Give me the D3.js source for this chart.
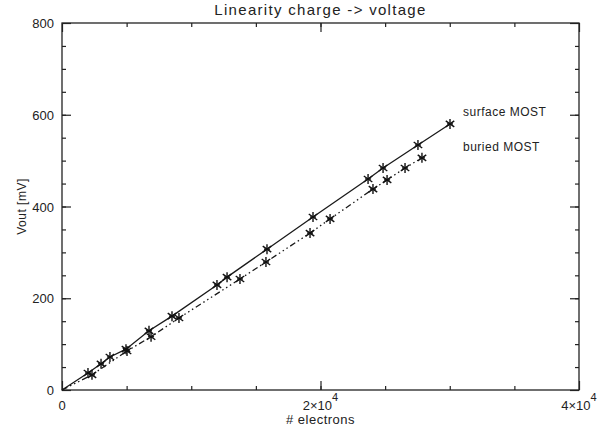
<!DOCTYPE html>
<html>
  <head>
    <meta charset="UTF-8">
    <title>Linearity charge -> voltage</title>
    <script src="https://cdn.jsdelivr.net/npm/d3@7"></script>
    <style>
      body { margin: 0; background: #fff; }
      text { font-family: "Liberation Sans", Arial, sans-serif; fill: #222; }
    </style>
  </head>
  <body>
    <script>
      // data: electrons vs Vout [mV]
      var surfaceX = [2010, 3020, 3710, 4950, 6730, 8510, 11990, 12770, 15860, 19420, 23680, 24840, 27540, 30020];
      var surfaceY = [37, 57, 72, 89, 129, 161, 229, 246, 307, 377, 460, 484, 534, 580];
      var buriedX = [2320, 5030, 6890, 9050, 13770, 15780, 19190, 20740, 24060, 25150, 26540, 27850];
      var buriedY = [33, 85, 116, 157, 242, 279, 342, 373, 438, 458, 484, 506];
      var xMajor = [0, 20000, 40000];
      var xMinor = d3.range(5000, 40000, 5000);
      var yMajor = [0, 200, 400, 600, 800];
      var yMinor = d3.range(50, 800, 50);
      var seriesNames = ["surface MOST", "buried MOST"];

      var width = 603, height = 427;
      var mLeft = 62, mRight = 579, mTop = 23, mBottom = 390;

      var svg = d3.select("body").append("svg")
        .attr("width", width)
        .attr("height", height);

      var x = d3.scaleLinear().domain([0, 40000]).range([mLeft, mRight]);
      var y = d3.scaleLinear().domain([0, 800]).range([mBottom, mTop]);

      // frame
      svg.append("rect")
        .attr("x", mLeft).attr("y", mTop)
        .attr("width", mRight - mLeft).attr("height", mBottom - mTop)
        .style("fill", "none").style("stroke", "#222").style("stroke-width", 1.3);

      function ticks(axis, vals, size, transform) {
        var g = svg.append("g")
          .attr("transform", transform)
          .call(axis.tickValues(vals).tickSize(size).tickFormat(""));
        g.select(".domain").remove();
        g.selectAll("line").style("stroke", "#222").style("stroke-width", 1.2);
        return g;
      }

      // inward ticks on all four sides
      ticks(d3.axisBottom(x), xMajor, -9, "translate(0," + mBottom + ")");
      ticks(d3.axisBottom(x), xMinor, -4, "translate(0," + mBottom + ")");
      ticks(d3.axisTop(x), xMajor, -9, "translate(0," + mTop + ")");
      ticks(d3.axisTop(x), xMinor, -4, "translate(0," + mTop + ")");
      ticks(d3.axisLeft(y), yMajor, -9, "translate(" + mLeft + ",0)");
      ticks(d3.axisLeft(y), yMinor, -4, "translate(" + mLeft + ",0)");
      ticks(d3.axisRight(y), yMajor, -9, "translate(" + mRight + ",0)");
      ticks(d3.axisRight(y), yMinor, -4, "translate(" + mRight + ",0)");

      // y tick labels
      svg.selectAll(".ylab")
        .data(yMajor)
        .enter().append("text")
        .attr("class", "ylab")
        .attr("x", mLeft - 8)
        .attr("y", function (d) { return y(d) + 5; })
        .attr("text-anchor", "end")
        .style("font-size", "13px")
        .text(function (d) { return d; });

      // x tick labels, with powers of ten
      var xl = svg.selectAll(".xlab")
        .data(xMajor)
        .enter().append("text")
        .attr("class", "xlab")
        .attr("x", function (d) { return x(d); })
        .attr("y", 410)
        .attr("text-anchor", "middle")
        .style("font-size", "13px");
      xl.each(function (d) {
        var t = d3.select(this);
        if (d === 0) { t.text("0"); return; }
        t.append("tspan").text((d / 10000) + "\u00d710");
        t.append("tspan").attr("dy", -9).style("font-size", "11px").text("4");
      });

      // titles
      svg.append("text")
        .attr("x", (mLeft + mRight) / 2)
        .attr("y", 15)
        .attr("text-anchor", "middle")
        .style("font-size", "15px")
        .style("letter-spacing", "1.3px")
        .text("Linearity charge -> voltage");

      svg.append("text")
        .attr("x", (mLeft + mRight) / 2)
        .attr("y", 424)
        .attr("text-anchor", "middle")
        .style("font-size", "13px")
        .style("letter-spacing", "0.5px")
        .text("# electrons");

      svg.append("text")
        .attr("transform", "translate(26," + ((mTop + mBottom) / 2) + ") rotate(-90)")
        .attr("text-anchor", "middle")
        .style("font-size", "12px")
        .style("letter-spacing", "0.5px")
        .text("Vout [mV]");

      // lines
      var line = d3.line()
        .x(function (d) { return x(d[0]); })
        .y(function (d) { return y(d[1]); });

      var surface = surfaceX.map(function (v, i) { return [v, surfaceY[i]]; });
      var buried = buriedX.map(function (v, i) { return [v, buriedY[i]]; });

      svg.append("path")
        .datum([[0, 0]].concat(surface))
        .attr("d", line)
        .style("fill", "none").style("stroke", "#1a1a1a").style("stroke-width", 1.3);

      svg.append("path")
        .datum([[0, 0]].concat(buried))
        .attr("d", line)
        .style("fill", "none").style("stroke", "#1a1a1a").style("stroke-width", 1.3)
        .style("stroke-dasharray", "6,3,1.5,3,1.5,3,1.5,3");

      // asterisk markers
      function stars(data) {
        var r = 5;
        var g = svg.append("g").selectAll("g")
          .data(data)
          .enter().append("g")
          .attr("transform", function (d) { return "translate(" + x(d[0]) + "," + y(d[1]) + ")"; });
        [[0, -r, 0, r], [-r * 0.6, 0, r * 0.6, 0],
         [-r * 0.85, -r * 0.6, r * 0.85, r * 0.6], [-r * 0.85, r * 0.6, r * 0.85, -r * 0.6]].forEach(function (s) {
          g.append("line")
            .attr("x1", s[0]).attr("y1", s[1]).attr("x2", s[2]).attr("y2", s[3])
            .style("stroke", "#111").style("stroke-width", 1.4);
        });
      }
      stars(surface);
      stars(buried);

      // series labels
      svg.selectAll(".lab")
        .data(seriesNames)
        .enter().append("text")
        .attr("class", "lab")
        .attr("x", 463)
        .attr("y", function (d, i) { return 116 + i * 35; })
        .style("font-size", "12px")
        .style("letter-spacing", "0.5px")
        .text(function (d) { return d; });
    </script>
  </body>
</html>
